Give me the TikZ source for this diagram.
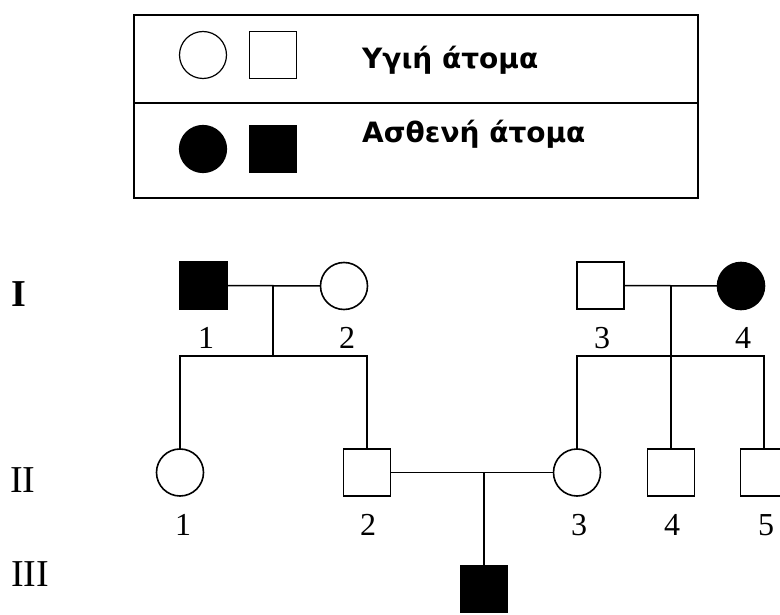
\documentclass[tikz,border=0pt]{standalone}
\usepackage{fontspec}
\setmainfont{Liberation Serif}
\setsansfont{DejaVu Sans}[BoldFont={DejaVu Sans Bold}]
\begin{document}
\begin{tikzpicture}[x=1pt,y=-1pt,
  ln/.style={line width=1.5pt},
  male/.style={draw,line width=1.6pt,minimum size=47pt,inner sep=0pt,outer sep=0pt,rectangle},
  female/.style={draw,line width=1.6pt,minimum size=47pt,inner sep=0pt,outer sep=0pt,circle},
  aff/.style={fill=black},
  num/.style={font=\fontsize{32}{32}\selectfont,inner sep=0pt},
  gen/.style={font=\fontsize{38}{38}\selectfont,inner sep=0pt},
  legtxt/.style={font=\sffamily\bfseries\fontsize{28}{32}\selectfont,anchor=base west,inner sep=0pt}]
\useasboundingbox (0,0) rectangle (780,615);
% legend
\node[draw,line width=1.7pt,minimum width=564pt,minimum height=183pt,inner sep=0pt,anchor=north west] (legbox) at (133,14) {};
\coordinate (dl) at (133,103);
\coordinate (dr) at (697,103);
\draw[line width=1.7pt] (dl) -- (dr);
\node[female,line width=1.2pt] (lc1) at (203,55) {};
\node[male,line width=1.2pt] (ls1) at (273,55) {};
\node[female,aff,line width=1.2pt] (lc2) at (203,149) {};
\node[male,aff,line width=1.2pt] (ls2) at (273,149) {};
\node[legtxt] (t1) at (362,69) {Υγιή άτομα};
\node[legtxt] (t2) at (362,143) {Ασθενή άτομα};
% generation labels
\node[gen,font=\fontsize{38}{38}\selectfont\bfseries] (gI) at (19,294) {I};
\node[gen] (gII) at (23,480) {II};
\node[gen] (gIII) at (30,574) {III};
% generation I
\node[male,aff] (i1) at (203.5,285.5) {};
\node[female] (i2) at (344,286) {};
\node[male] (i3) at (600.5,285.5) {};
\node[female,aff] (i4) at (741,286) {};
\node[num] (ni1) at (206,338) {1};
\node[num] (ni2) at (347,338) {2};
\node[num] (ni3) at (602,338) {3};
\node[num] (ni4) at (743,338) {4};
% generation II
\node[female] (ii1) at (180,472.5) {};
\node[male] (ii2) at (367,472.5) {};
\node[female] (ii3) at (577,472.5) {};
\node[male] (ii4) at (671,472.5) {};
\node[male] (ii5) at (764,472.5) {};
\node[num] (nii1) at (183,525) {1};
\node[num] (nii2) at (368,525) {2};
\node[num] (nii3) at (579,525) {3};
\node[num] (nii4) at (672,525) {4};
\node[num] (nii5) at (766,525) {5};
% generation III
\node[male,aff] (iii1) at (484,589) {};
% marriages and descent
\coordinate (m1) at (273,286);
\coordinate (s1) at (273,356);
\draw[ln] (i1.east) -- (i2.west);
\draw[ln] (m1) -- (s1);
\draw[ln] (ii1.north) |- (s1) -| (ii2.north);
\coordinate (m2) at (671,286);
\coordinate (s2) at (671,356);
\draw[ln] (i3.east) -- (i4.west);
\draw[ln] (m2) -- (ii4.north);
\draw[ln] (ii3.north) |- (s2) -| (ii5.north);
\coordinate (m3) at (484,472.5);
\draw[ln] (ii2.east) -- (ii3.west);
\draw[ln] (m3) -- (iii1.north);
\end{tikzpicture}
\end{document}
